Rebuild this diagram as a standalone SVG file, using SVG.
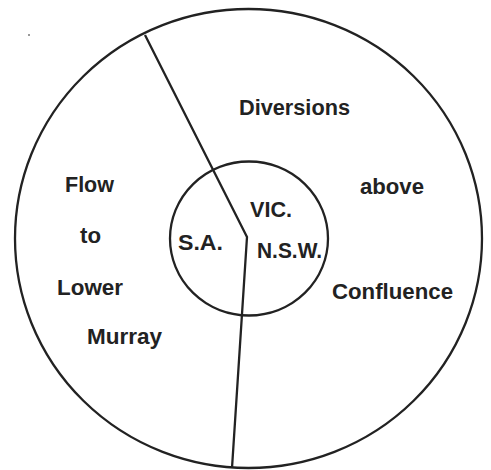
<svg xmlns="http://www.w3.org/2000/svg" width="491" height="470" viewBox="0 0 491 470">
<style>
.ln{fill:none;stroke:#222;stroke-width:2.3;stroke-linejoin:round}
.t{font-family:"Liberation Sans",Arial,Helvetica,sans-serif;font-weight:bold;font-size:22px;fill:#222}
</style>
<rect width="491" height="470" fill="#fff"/>
<g id="outer-circle"><ellipse class="ln" cx="248.5" cy="238.5" rx="233.5" ry="229.5"/></g>
<g id="inner-circle"><ellipse class="ln" cx="249" cy="238.5" rx="79" ry="77"/></g>
<g id="connectors"><polyline class="ln" points="145,35 247,237 232,468"/></g>
<g id="diversions">
<text class="t" x="239" y="115" textLength="111" lengthAdjust="spacingAndGlyphs">Diversions</text>
<text class="t" x="360" y="194" textLength="64" lengthAdjust="spacingAndGlyphs">above</text>
<text class="t" x="332" y="299" textLength="121" lengthAdjust="spacingAndGlyphs">Confluence</text>
</g>
<g id="flow">
<text class="t" x="65" y="192" textLength="49" lengthAdjust="spacingAndGlyphs">Flow</text>
<text class="t" x="80" y="243" textLength="21" lengthAdjust="spacingAndGlyphs">to</text>
<text class="t" x="57" y="295" textLength="66" lengthAdjust="spacingAndGlyphs">Lower</text>
<text class="t" x="87" y="344" textLength="75" lengthAdjust="spacingAndGlyphs">Murray</text>
</g>
<g id="vic"><text class="t" x="250" y="217" textLength="42" lengthAdjust="spacingAndGlyphs">VIC.</text></g>
<g id="sa"><text class="t" x="178" y="250" textLength="45" lengthAdjust="spacingAndGlyphs">S.A.</text></g>
<g id="nsw"><text class="t" x="257" y="258" textLength="65" lengthAdjust="spacingAndGlyphs">N.S.W.</text></g>
<circle cx="29" cy="35" r="1" fill="#777"/>
</svg>
